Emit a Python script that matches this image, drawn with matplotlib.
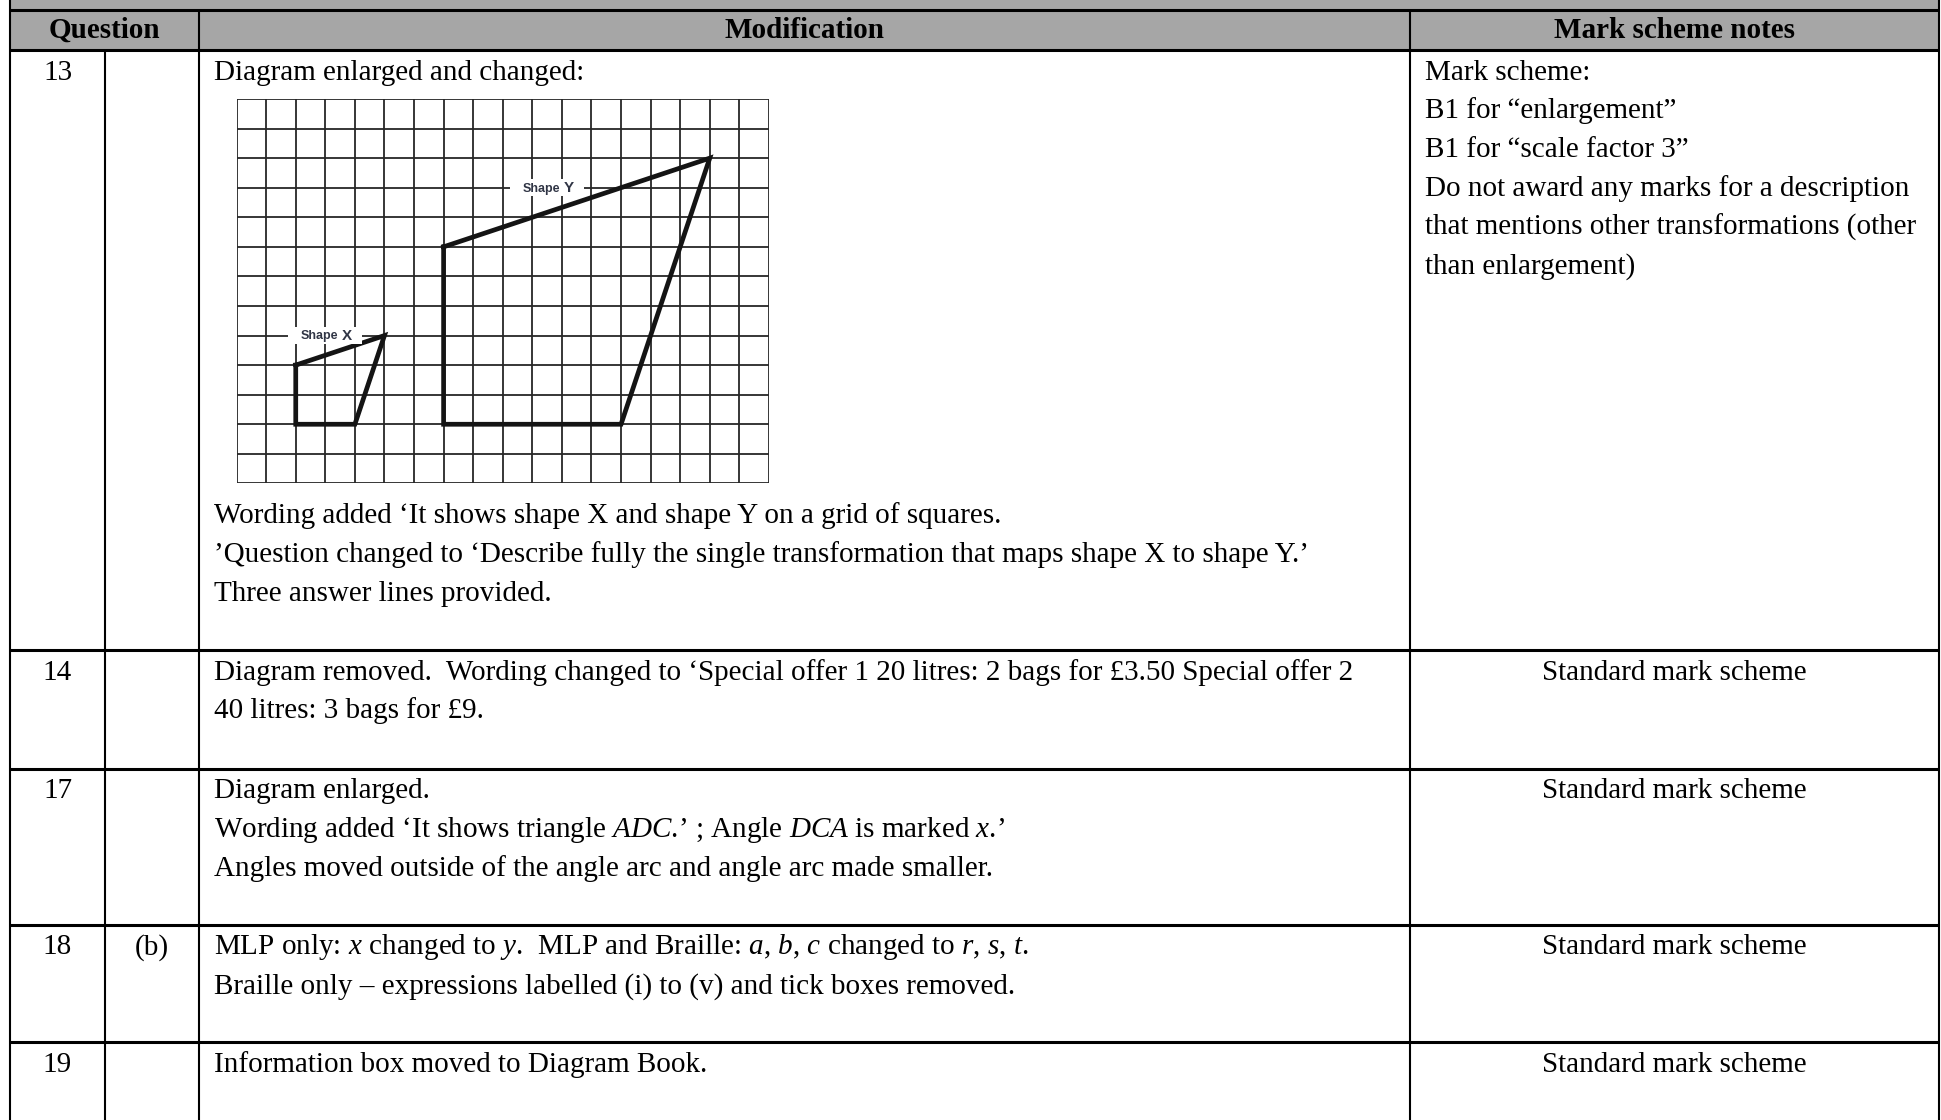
import matplotlib
matplotlib.use('Agg')
import matplotlib.pyplot as plt
from matplotlib.patches import Rectangle

plt.rcParams['font.family'] = 'Liberation Serif'
plt.rcParams['mathtext.fontset'] = 'custom'
plt.rcParams['mathtext.rm'] = 'Liberation Serif'
plt.rcParams['mathtext.it'] = 'Liberation Serif:italic'
plt.rcParams['mathtext.default'] = 'it'

# ---- table content ----
headers = ['Question', 'Modification', 'Mark scheme notes']
questions = ['13', '14', '17', '18', '19']
parts = ['', '', '', '(b)', '']
mod_first = [
    ['Diagram enlarged and changed:'],
    ['Diagram removed.  Wording changed to \u2018Special offer 1 20 litres: 2 bags for \u00a33.50 Special offer 2',
     '40 litres: 3 bags for \u00a39.'],
    ['Diagram enlarged.',
     'Wording added \u2018It shows triangle $ADC$.\u2019 ; Angle $DCA$ is marked $x$.\u2019',
     'Angles moved outside of the angle arc and angle arc made smaller.'],
    ['MLP only: $x$ changed to $y$.  MLP and Braille: $a$, $b$, $c$ changed to $r$, $s$, $t$.',
     'Braille only \u2013 expressions labelled (i) to (v) and tick boxes removed.'],
    ['Information box moved to Diagram Book.'],
]
mod_after_diagram = [
    'Wording added \u2018It shows shape X and shape Y on a grid of squares.',
    '\u2019Question changed to \u2018Describe fully the single transformation that maps shape X to shape Y.\u2019',
    'Three answer lines provided.',
]
mark_notes = [
    ['Mark scheme:',
     'B1 for \u201cenlargement\u201d',
     'B1 for \u201cscale factor 3\u201d',
     'Do not award any marks for a description',
     'that mentions other transformations (other',
     'than enlargement)'],
    ['Standard mark scheme'],
    ['Standard mark scheme'],
    ['Standard mark scheme'],
    ['Standard mark scheme'],
]

# ---- grid diagram content (grid units, y counted downward) ----
grid_cols, grid_rows = 18, 13
shape_x = [(2, 9), (5, 8), (4, 11), (2, 11)]
shape_y = [(7, 5), (16, 2), (13, 11), (7, 11)]
label_x = ('Shape', 'X', 3.0, 8.0)
label_y = ('Shape', 'Y', 10.5, 3.0)

# ---- layout (pixels) ----
W, H = 1941, 1120
COL_X = [10, 105, 199, 1410, 1939]
ROW_TOP = [50, 650, 769, 925, 1042]
HEAD_TOP = 10
FS = 21
LINE = 38.8
BASE = 29.5
GRID_BOX = (236.6, 99.0, 532.3, 384.4)   # left, top, width, height

fig = plt.figure(figsize=(W / 100, H / 100), dpi=100)
ax = fig.add_axes([0, 0, 1, 1])
ax.set_xlim(0, W)
ax.set_ylim(H, 0)
ax.axis('off')

# header shading
ax.add_patch(Rectangle((COL_X[0], 0), COL_X[-1] - COL_X[0], ROW_TOP[0],
                       facecolor='#a6a6a6', edgecolor='none', zorder=0))

# table rules
for y in [HEAD_TOP] + ROW_TOP:
    ax.plot([COL_X[0], COL_X[-1]], [y, y], color='black', lw=2.2,
            solid_capstyle='butt')
for x in [COL_X[0], COL_X[4]]:
    ax.plot([x, x], [0, H], color='black', lw=1.5, solid_capstyle='butt')
for x in [COL_X[2], COL_X[3]]:
    ax.plot([x, x], [HEAD_TOP, H], color='black', lw=1.5, solid_capstyle='butt')
ax.plot([COL_X[1], COL_X[1]], [ROW_TOP[0], H], color='black', lw=1.5,
        solid_capstyle='butt')

# header text
head_base = HEAD_TOP + 28
ax.text((COL_X[0] + COL_X[2]) / 2, head_base, headers[0], ha='center',
        va='baseline', fontsize=FS, fontweight='bold')
ax.text((COL_X[2] + COL_X[3]) / 2, head_base, headers[1], ha='center',
        va='baseline', fontsize=FS, fontweight='bold')
ax.text((COL_X[3] + COL_X[4]) / 2, head_base, headers[2], ha='center',
        va='baseline', fontsize=FS, fontweight='bold')

mod_x = COL_X[2] + 15
mark_x = COL_X[3] + 15
for i, top in enumerate(ROW_TOP):
    yb = top + BASE
    ax.text((COL_X[0] + COL_X[1]) / 2, yb, questions[i], ha='center',
            va='baseline', fontsize=FS)
    if parts[i]:
        ax.text((COL_X[1] + COL_X[2]) / 2, yb, parts[i], ha='center',
                va='baseline', fontsize=FS)
    for k, line in enumerate(mod_first[i]):
        ax.text(mod_x, yb + k * LINE, line, ha='left', va='baseline',
                fontsize=FS)
    notes = mark_notes[i]
    if len(notes) == 1:
        ax.text((COL_X[3] + COL_X[4]) / 2, yb, notes[0], ha='center',
                va='baseline', fontsize=FS)
    else:
        for k, line in enumerate(notes):
            ax.text(mark_x, yb + k * LINE, line, ha='left', va='baseline',
                    fontsize=FS)

# text under the diagram in row 13
for k, line in enumerate(mod_after_diagram):
    ax.text(mod_x, 523 + k * LINE, line, ha='left', va='baseline', fontsize=FS)

# ---- grid diagram ----
gl, gt, gw, gh = GRID_BOX
g = fig.add_axes([gl / W, 1 - (gt + gh) / H, gw / W, gh / H])
g.set_xlim(0, grid_cols)
g.set_ylim(grid_rows, 0)
g.axis('off')
g.vlines(range(grid_cols + 1), 0, grid_rows, color='#262626', lw=1.3)
g.hlines(range(grid_rows + 1), 0, grid_cols, color='#262626', lw=1.3)

for pts in (shape_x, shape_y):
    xs = [p[0] for p in pts] + [pts[0][0]]
    ys = [p[1] for p in pts] + [pts[0][1]]
    g.plot(xs, ys, color='#141414', lw=3.4, solid_joinstyle='miter', zorder=3)

for word, letter, lx, ly in (label_x, label_y):
    g.add_patch(Rectangle((lx - 1.25, ly - 0.28), 2.5, 0.56, facecolor='white',
                          edgecolor='none', zorder=4))
    g.text(lx + 0.45, ly + 0.03, word, ha='right', va='center', fontsize=9,
           fontweight='bold', family='Liberation Sans', color='#303545', zorder=5)
    g.text(lx + 0.55, ly, letter, ha='left', va='center', fontsize=11,
           fontweight='bold', family='Liberation Sans', color='#303545', zorder=5)

fig.savefig('out.png', dpi=100)
